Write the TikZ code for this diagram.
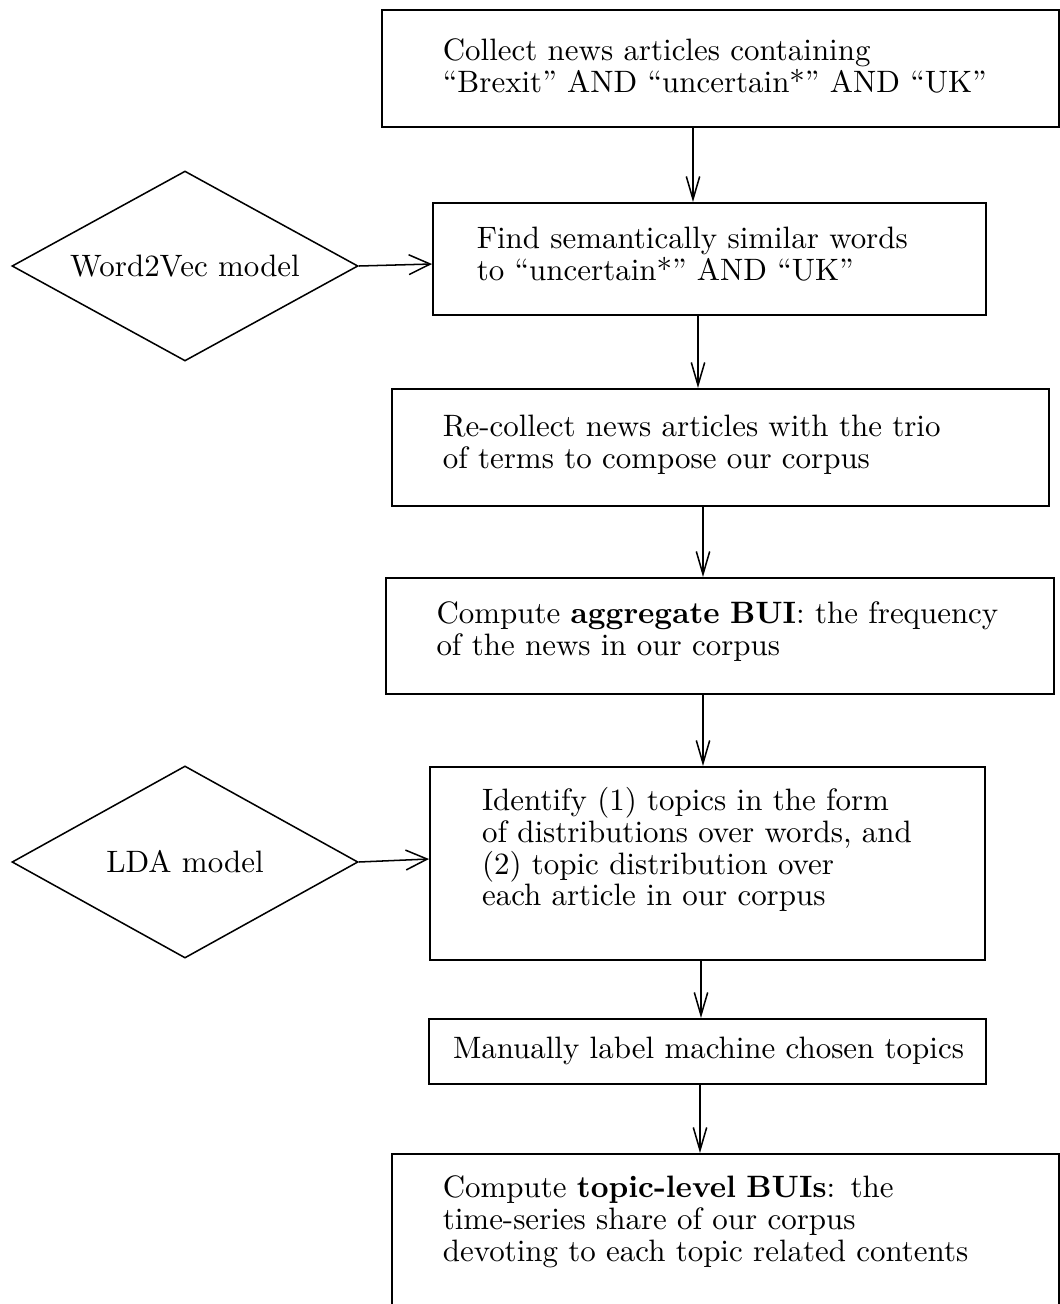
\documentclass[tikz,border=0pt]{standalone}
\usetikzlibrary{shapes.geometric,arrows.meta}
\newcommand\ind[1]{\hspace*{#1}}
\begin{document}
\begin{tikzpicture}[x=0.328pt,y=-0.328pt,
  txt/.style={font=\fontsize{10.15}{10.4}\selectfont},
  box/.style={txt, draw, line width=0.6pt, rectangle, inner sep=0pt, anchor=north west, align=left},
  dia/.style={txt, draw, diamond, line width=0.5pt, aspect=1.8, inner sep=0pt, minimum width=113.5pt},
  arr/.style={line width=0.5pt, -{Straight Barb[length=7.5pt,width=4.4pt]}},
  harr/.style={line width=0.5pt, -{Straight Barb[length=7pt,width=6.5pt]}}]
\useasboundingbox (0,0) rectangle (1060,1304);

\node[box, text width=222.1pt, text height=16.7pt, text depth=21.7pt] (b1) at (381,9)
  {\ind{20.0pt}Collect news articles containing\\\ind{20.0pt}“Brexit” AND “uncertain*” AND “UK”};
\node[box, text width=181.4pt, text height=14.9pt, text depth=21.8pt] (b2) at (432,202)
  {\ind{14.4pt}Find semantically similar words\\\ind{14.4pt}to “uncertain*” AND “UK”};
\node[box, text width=215.5pt, text height=15.7pt, text depth=22.7pt] (b3) at (391,388)
  {\ind{16.7pt}Re-collect news articles with the trio\\\ind{16.7pt}of terms to compose our corpus};
\node[box, text width=219.1pt, text height=15.1pt, text depth=22.9pt] (b4) at (385,577)
  {\ind{16.6pt}Compute \textbf{aggregate BUI}: the frequency\\\ind{16.6pt}of the news in our corpus};
\node[box, text width=182.0pt, text height=14.4pt, text depth=48.9pt] (b5) at (429,766)
  {\ind{17.1pt}Identify (1) topics in the form\\\ind{17.1pt}of distributions over words, and\\\ind{17.1pt}(2) topic distribution over\\\ind{17.1pt}each article in our corpus};
\node[box, text width=182.7pt, text height=13.1pt, text depth=8.2pt] (b6) at (428,1018)
  {\ind{7.9pt}Manually label machine chosen topics};
\node[box, text width=218.8pt, text height=14.4pt, text depth=46.9pt] (b7) at (391,1153)
  {\ind{16.7pt}Compute \textbf{topic-level BUIs}: the\\\ind{16.7pt}time-series share of our corpus\\\ind{16.7pt}devoting to each topic related contents};

\node[dia, minimum height=62.3pt] (w2v) at (185,266) {Word2Vec model};
\node[dia, minimum height=63.0pt] (lda) at (185,862) {LDA model};

\draw[arr] (b1.south -| 693,0) -- (b2.north -| 693,0);
\draw[arr] (b2.south -| 698,0) -- (b3.north -| 698,0);
\draw[arr] (b3.south -| 703,0) -- (b4.north -| 703,0);
\draw[arr] (b4.south -| 703,0) -- (b5.north -| 703,0);
\draw[arr] (b5.south -| 701,0) -- (b6.north -| 701,0);
\draw[arr] (b6.south -| 700,0) -- (b7.north -| 700,0);
\draw[harr] (w2v.east) -- (b2.west |- 0,264);
\draw[harr] (lda.east) -- (b5.west |- 0,859);
\end{tikzpicture}
\end{document}
